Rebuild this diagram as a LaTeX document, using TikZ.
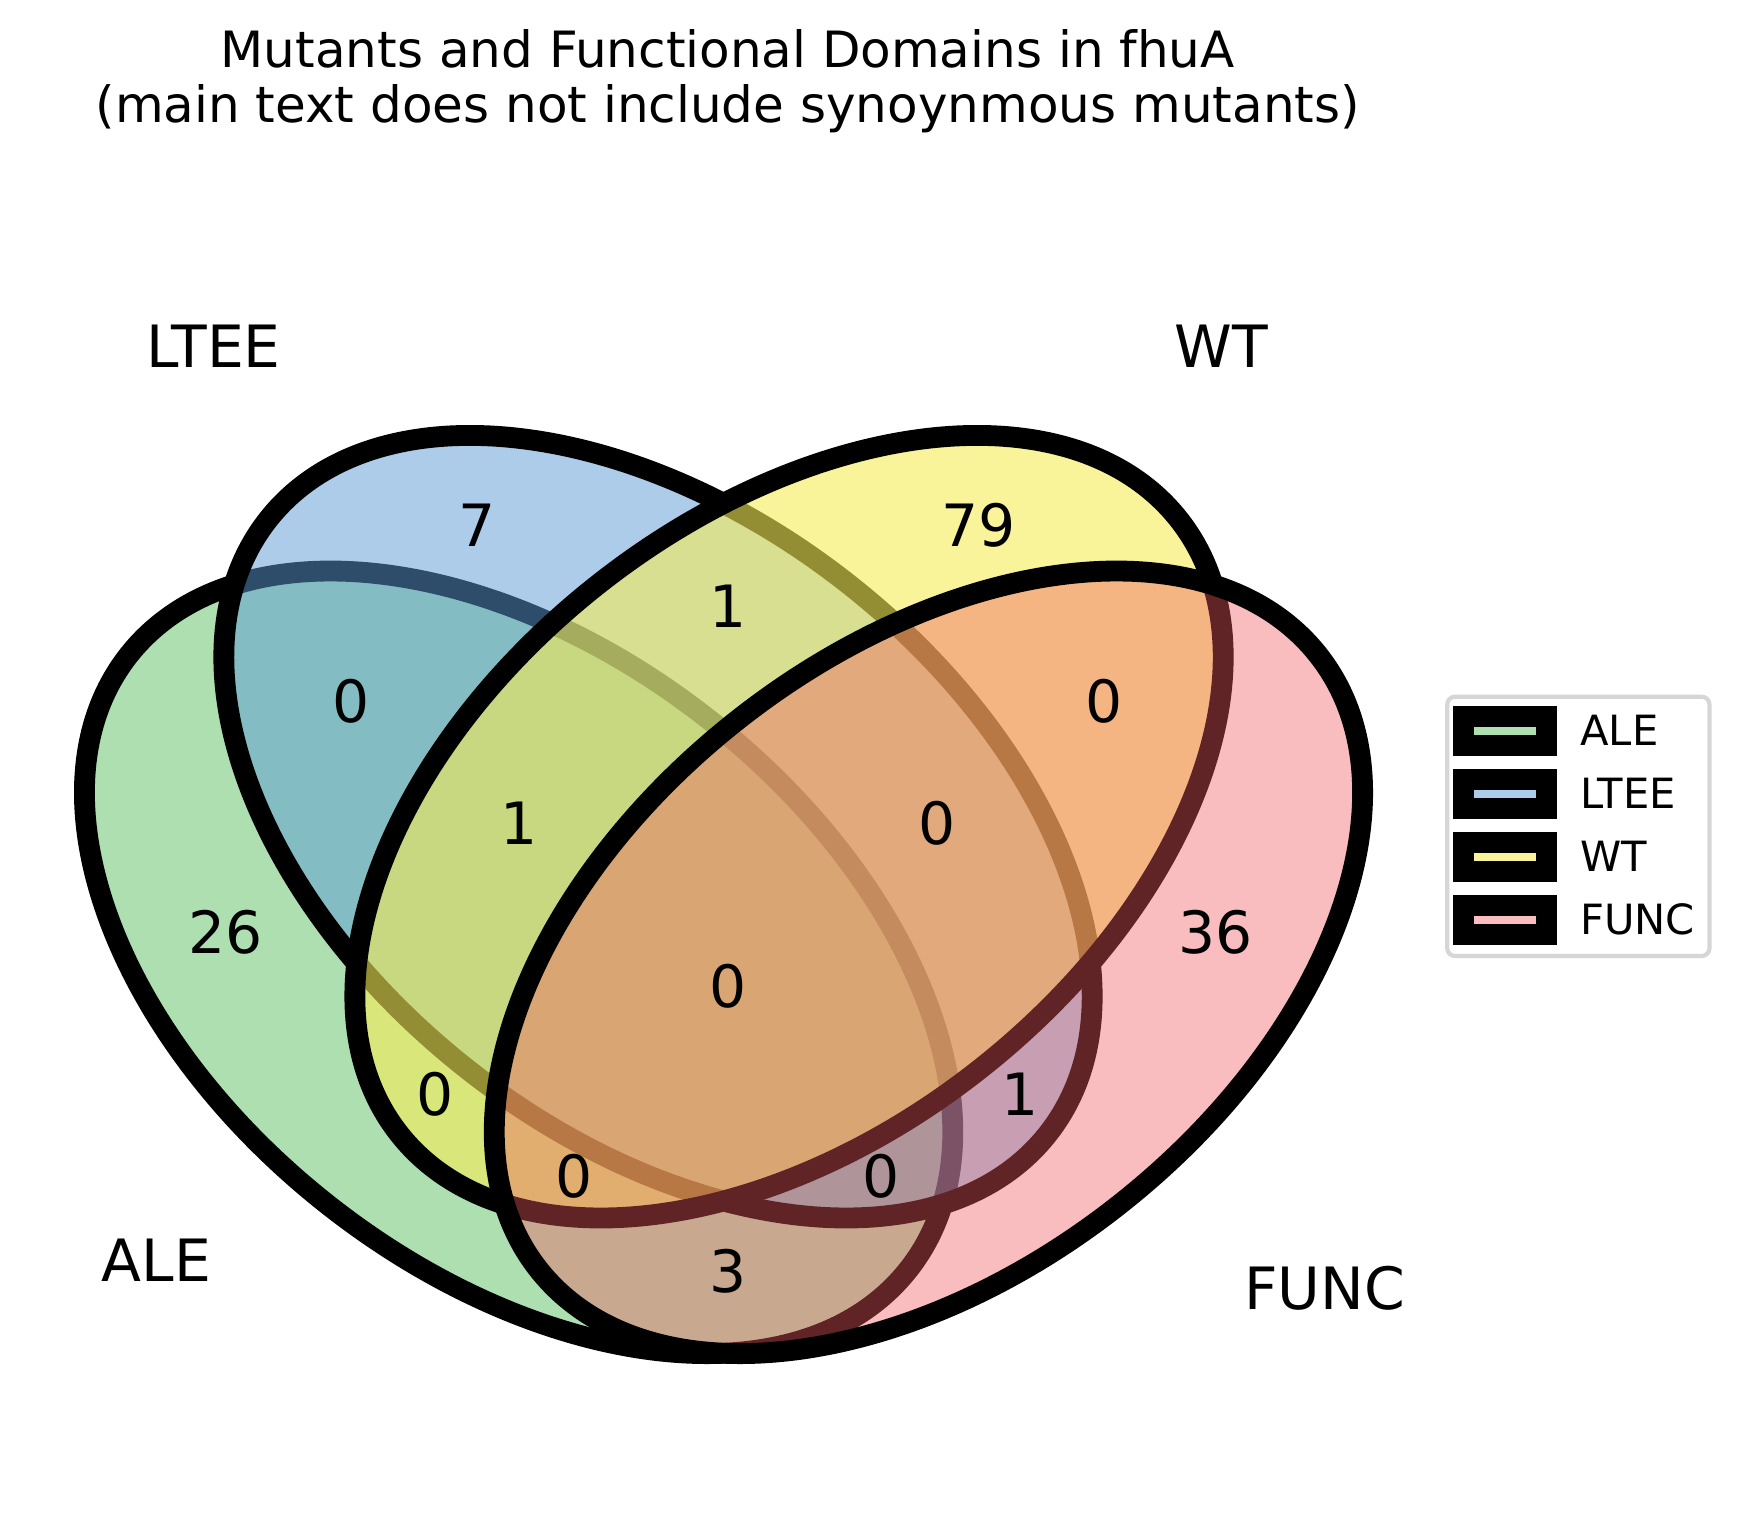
\documentclass[tikz,border=0pt]{standalone}
\usepackage{fontspec}
\setmainfont{DejaVu Sans}
\definecolor{alecol}{RGB}{92,192,98}
\definecolor{ltcol}{RGB}{90,155,212}
\definecolor{wtcol}{RGB}{246,236,86}
\definecolor{funcol}{RGB}{241,90,96}
\definecolor{legedge}{RGB}{214,214,214}
\tikzset{
  setshape/.style={draw=black, line width=5pt},
  num/.style={inner sep=0pt, anchor=base, yshift=-4.3pt, font=\fontsize{14}{16.8}\selectfont},
  setname/.style={inner sep=0pt, font=\fontsize{14}{16.8}\selectfont},
  legtext/.style={inner sep=0pt, anchor=base west, font=\fontsize{10}{12}\selectfont},
  titletext/.style={inner sep=0pt, anchor=base, font=\fontsize{12}{14.4}\selectfont},
  leghandle/.style={draw=black, line width=5pt},
}
\begin{document}
\begin{tikzpicture}[x=0.24pt, y=0.24pt]
\fill[white] (0,0) rectangle (1740,-1537);
\useasboundingbox (0,0) rectangle (1740,-1537);

% title
\node[titletext] (title1) at (727.7,-67.7) {Mutants and Functional Domains in fhuA};
\node[titletext] (title2) at (727.7,-122.7) {(main text does not include synoynmous mutants)};

% ellipses in data coordinates (x100)
\begin{scope}[shift={(30.7,-1504.7)}, xscale=13.94, yscale=13.56]
  \path[setshape, fill=alecol, fill opacity=0.5, rotate around={140:(35,40)}] (35,40) ellipse [x radius=36, y radius=22.5];
  \path[setshape, fill=ltcol, fill opacity=0.5, rotate around={140:(45,50)}] (45,50) ellipse [x radius=36, y radius=22.5];
  \path[setshape, fill=wtcol, fill opacity=0.6, rotate around={40:(54.4,50)}] (54.4,50) ellipse [x radius=36, y radius=22.5];
  \path[setshape, fill=funcol, fill opacity=0.4, rotate around={40:(64.4,40)}] (64.4,40) ellipse [x radius=36, y radius=22.5];

  \node[num] (r0001) at (85,42) {36};
  \node[num] (r0010) at (68,72) {79};
  \node[num] (r0011) at (77,59) {0};
  \node[num] (r0100) at (32,72) {7};
  \node[num] (r0101) at (71,30) {1};
  \node[num] (r0110) at (50,66) {1};
  \node[num] (r0111) at (65,50) {0};
  \node[num] (r1000) at (14,42) {26};
  \node[num] (r1001) at (50,17) {3};
  \node[num] (r1010) at (29,30) {0};
  \node[num] (r1011) at (39,24) {0};
  \node[num] (r1100) at (23,59) {0};
  \node[num] (r1101) at (61,24) {0};
  \node[num] (r1110) at (35,50) {1};
  \node[num] (r1111) at (50,38) {0};
\end{scope}

% set names
\node[setname, anchor=base east] (nALE) at (211.9,-1281) {ALE};
\node[setname, anchor=base east] (nLTEE) at (281.6,-367.7) {LTEE};
\node[setname, anchor=base west] (nWT) at (1173.8,-367.7) {WT};
\node[setname, anchor=base west] (nFUNC) at (1243.5,-1309) {FUNC};

% legend
\draw[legedge, line width=1pt, fill=white, rounded corners=1.9pt] (1447.2,-696.7) rectangle (1709.5,-956);
\path[leghandle, fill=alecol, fill opacity=0.5] (1463.35,-716.4) rectangle (1546.65,-745.6);
\path[leghandle, fill=ltcol, fill opacity=0.5] (1463.35,-779.3) rectangle (1546.65,-808.5);
\path[leghandle, fill=wtcol, fill opacity=0.6] (1463.35,-842.2) rectangle (1546.65,-871.4);
\path[leghandle, fill=funcol, fill opacity=0.4] (1463.35,-905.1) rectangle (1546.65,-934.3);
\node[legtext] (lALE) at (1579.5,-745.7) {ALE};
\node[legtext] (lLTEE) at (1579.5,-808.6) {LTEE};
\node[legtext] (lWT) at (1579.5,-871.5) {WT};
\node[legtext] (lFUNC) at (1579.5,-934.4) {FUNC};
\end{tikzpicture}
\end{document}
